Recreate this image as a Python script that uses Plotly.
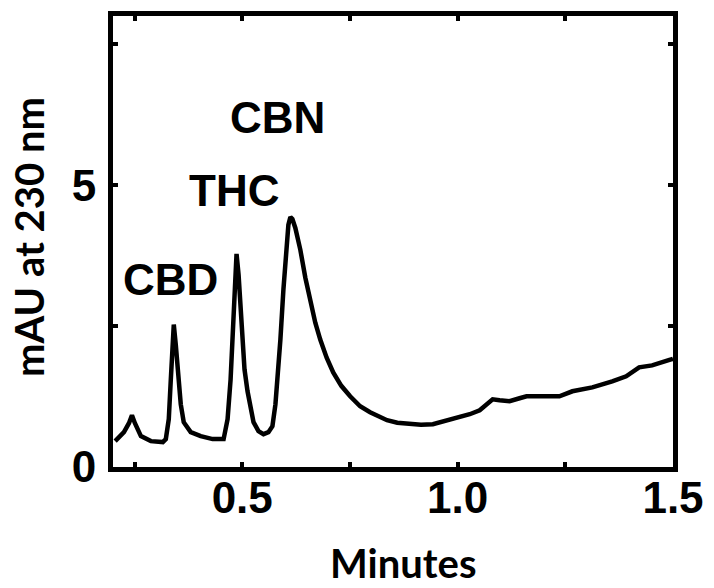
import plotly.graph_objects as go

# Chromatogram trace (minutes, mAU at 230 nm)
minutes = [0.205, 0.2254, 0.2370, 0.2440, 0.2509, 0.2648, 0.2879, 0.3157, 0.3226, 0.3295,
           0.3342, 0.3388, 0.3411, 0.3457, 0.3504, 0.3573, 0.3642, 0.3804, 0.4036, 0.4313,
           0.4568, 0.4660, 0.4730, 0.4799, 0.4845, 0.4868, 0.4915, 0.4984, 0.5053, 0.5123,
           0.5192, 0.5262, 0.5377, 0.5493, 0.5609, 0.5701, 0.5771, 0.5817, 0.5886, 0.5956,
           0.6025, 0.6071, 0.6118, 0.6164, 0.6233, 0.6349, 0.6465, 0.6580, 0.6696, 0.6811,
           0.6960, 0.7112, 0.7300, 0.7505, 0.7737, 0.7968, 0.8100, 0.8361, 0.8600, 0.8893,
           0.9150, 0.9425, 0.9888, 1.0281, 1.0513, 1.0674,
           1.0813, 1.0975, 1.1206, 1.1438, 1.1600, 1.2016, 1.2363, 1.2664, 1.3127, 1.3589,
           1.3913, 1.4214, 1.4515, 1.4954, 1.5]
mau = [0.46, 0.618, 0.777, 0.919, 0.777, 0.548, 0.459, 0.442, 0.495, 0.848,
       1.555, 2.350, 2.527, 2.173, 1.643, 1.113, 0.795, 0.618, 0.548, 0.495,
       0.495, 0.848, 1.555, 2.615, 3.498, 3.781, 3.410, 2.438, 1.731, 1.343,
       1.025, 0.795, 0.636, 0.583, 0.618, 0.724, 1.113, 1.555, 2.261, 3.145,
       3.940, 4.293, 4.435, 4.399, 4.240, 3.852, 3.357, 2.915, 2.560, 2.261,
       1.940, 1.678, 1.440, 1.254, 1.078, 0.972, 0.920, 0.830, 0.785, 0.760,
       0.750, 0.760, 0.848, 0.936, 1.007, 1.113,
       1.201, 1.184, 1.166, 1.219, 1.254, 1.254, 1.254, 1.343, 1.413, 1.519,
       1.608, 1.767, 1.802, 1.908, 1.92]

peak_names = ["CBD", "THC", "CBN"]

x_tickvals = [0.25, 0.5, 0.75, 1.0, 1.25, 1.5]
x_ticktext = ["", "0.5", "", "1.0", "", "1.5"]
y_tickvals = [0, 2.5, 5, 7.5]
y_ticktext = ["0", "", "5", ""]

x_title = "Minutes"
y_title = "mAU at 230 nm"

fig = go.Figure()
fig.add_trace(go.Scatter(x=minutes, y=mau, mode="lines",
                         line=dict(color="black", width=4.5), showlegend=False))

label_pos = [(0.334, 3.32), (0.482, 4.91), (0.582, 6.20)]
for name, (lx, ly) in zip(peak_names, label_pos):
    fig.add_annotation(x=lx, y=ly, text=name, showarrow=False,
                       font=dict(family="Liberation Sans", size=44, color="black", weight="bold"))

titlefont = dict(family="Lato", size=40, color="black", weight="bold")
fig.add_annotation(xref="paper", yref="paper", x=0.518, y=-0.213, text=x_title,
                   showarrow=False, xanchor="center", yanchor="middle", font=titlefont)
fig.add_annotation(xref="paper", yref="paper", x=-0.15, y=0.51, text=y_title,
                   showarrow=False, xanchor="center", yanchor="middle", textangle=-90,
                   font=titlefont)

tickfont = dict(family="Liberation Sans", size=44, color="black", weight="bold")

fig.update_xaxes(range=[0.2, 1.5], tickvals=x_tickvals, ticktext=x_ticktext,
                 ticks="inside", ticklen=5, tickwidth=4, tickcolor="black",
                 showline=True, linewidth=5, linecolor="black", mirror="allticks",
                 showgrid=False, zeroline=False, tickfont=tickfont, automargin=False,
                 ticklabelstandoff=-12)
fig.update_yaxes(range=[0, 8], tickvals=y_tickvals, ticktext=y_ticktext,
                 ticks="inside", ticklen=5, tickwidth=4, tickcolor="black",
                 showline=True, linewidth=5, linecolor="black", mirror="allticks",
                 showgrid=False, zeroline=False, tickfont=tickfont, automargin=False,
                 ticklabelstandoff=3)

fig.update_layout(width=714, height=588, plot_bgcolor="white", paper_bgcolor="white",
                  margin=dict(l=113, r=41, t=16, b=121))

fig.write_html("out.html", config={"displayModeBar": False},
               post_script="document.body.style.margin='0';")
